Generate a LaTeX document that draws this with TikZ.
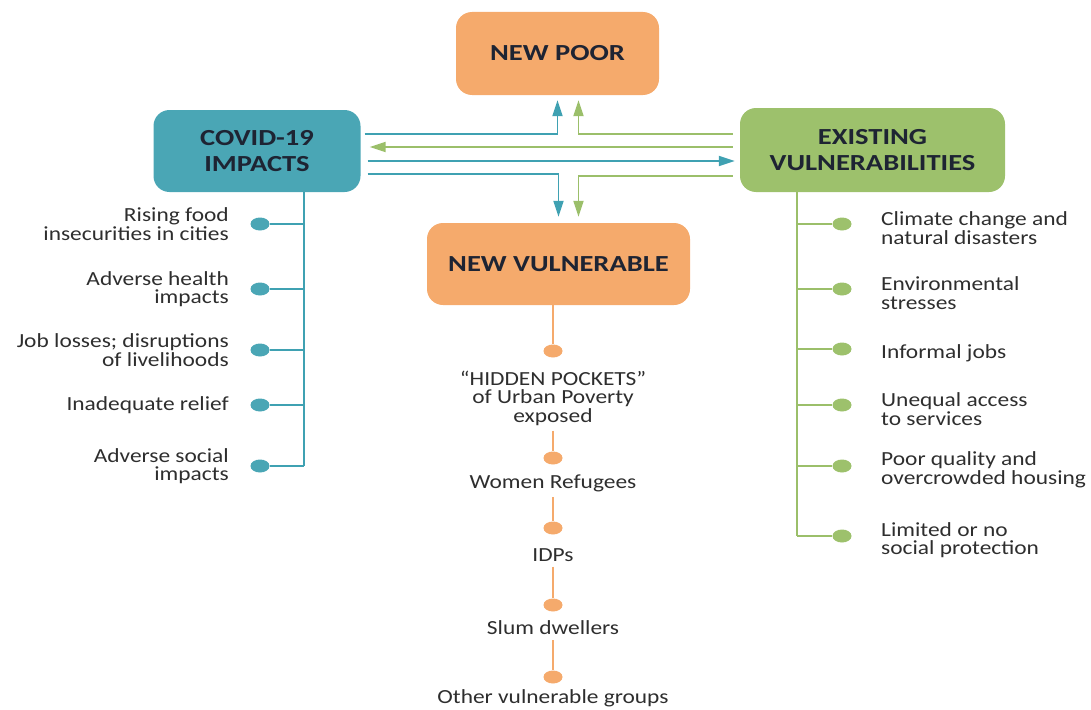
\documentclass[tikz,border=0pt]{standalone}
\usepackage{fontspec}
\setmainfont{Carlito}[FakeStretch=1.17]
\newfontfamily\headfont{Carlito}[FakeStretch=1.24]
\usetikzlibrary{arrows.meta,positioning,shapes.geometric}
\definecolor{tealc}{HTML}{4AA6B5}
\definecolor{tealln}{HTML}{3FA1B2}
\definecolor{greenc}{HTML}{9DC16C}
\definecolor{greenln}{HTML}{9BBF6A}
\definecolor{orangec}{HTML}{F5AA6C}
\definecolor{inkc}{HTML}{1E2433}
\definecolor{greyc}{HTML}{2E2E2E}

\tikzset{
  hub/.style={rounded corners=16pt, minimum height=83pt, align=center,
    font=\headfont\bfseries\fontsize{23}{26}\selectfont, text=inkc},
  bullet/.style={ellipse, minimum width=19pt, minimum height=13pt, inner sep=0pt, fill=#1},
  item/.style={font=\fontsize{20}{18.5}\selectfont, text=greyc, inner sep=0pt},
  wire/.style={line width=1.8pt, draw=#1},
  flow/.style={line width=1.8pt, draw=#1, -{Triangle[length=16pt,width=10pt,fill=#1]}}
}

\begin{document}
\begin{tikzpicture}[x=1pt,y=-1pt]
  \useasboundingbox (0,0) rectangle (1091,709);
  % the four boxes
  \node[hub,fill=orangec,minimum width=203pt] (poor) at (557.5,53.5) {NEW POOR};
  \node[hub,fill=tealc,minimum width=207pt,minimum height=82pt] (covid) at (257,151) {COVID-19\\IMPACTS};
  \node[hub,fill=greenc,minimum width=265pt,minimum height=84pt] (exist) at (872.5,150) {EXISTING\\VULNERABILITIES};
  \node[hub,fill=orangec,minimum width=263pt,minimum height=82pt] (newvul) at (558.5,264) {NEW VULNERABLE};

  % flows between the boxes
  \draw[flow=tealln] ([shift={(4pt,17pt)}]covid.east) -| ([yshift=-5pt]poor.south);
  \draw[flow=greenln] ([shift={(-7pt,16pt)}]exist.west) -| ([shift={(21pt,-5pt)}]poor.south);
  \draw[flow=greenln] ([shift={(-7pt,3pt)}]exist.west) -- ([shift={(9pt,4pt)}]covid.east);
  \draw[flow=tealln] ([shift={(7pt,-10pt)}]covid.east) -- ([shift={(-5pt,-11pt)}]exist.west);
  \draw[flow=tealln] ([shift={(7pt,-23pt)}]covid.east) -| ([yshift=6pt]newvul.north);
  \draw[flow=greenln] ([shift={(-7pt,-26pt)}]exist.west) -| ([shift={(20pt,6pt)}]newvul.north);

  % covid impacts
  \foreach \y/\txt [count=\i] in {224/{Rising food\\insecurities in cities},
      289/{Adverse health\\impacts}, 350/{Job losses; disruptions\\of livelihoods},
      405/{Inadequate relief}, 466/{Adverse social\\impacts}} {
    \node[bullet=tealc] (cd\i) at (260,\y) {};
    \node[item,anchor=east,align=right] (ct\i) at (229,\y) {\txt};
    \coordinate (cj\i) at (304,\y);
    \draw[wire=tealln] (cd\i) -- (cj\i);
  }
  \draw[wire=tealln] (covid.south -| cj1) -- (cj5);

  % existing vulnerabilities
  \foreach \y/\txt [count=\i] in {224/{Climate change and\\natural disasters},
      289/{Environmental\\stresses}, 349/{Informal jobs},
      405/{Unequal access\\to services}, 466/{Poor quality and\\overcrowded housing},
      536/{Limited or no\\social protection}} {
    \node[bullet=greenc] (ed\i) at (842,\y) {};
    \node[item,anchor=west,align=left] (et\i) at (881,\y+4) {\txt};
    \coordinate (ej\i) at (797,\y);
    \draw[wire=greenln] (ej\i) -- (ed\i);
  }
  \draw[wire=greenln] (exist.south -| ej1) -- (ej6);

  % new vulnerable groups
  \foreach \y [count=\i] in {351,458,528,605,677}
    \node[bullet=orangec] (md\i) at (553,\y) {};
  \foreach \y/\txt [count=\i] in {398/{“HIDDEN POCKETS”\\of Urban Poverty\\exposed},
      483/{Women Refugees}, 555/{IDPs}, 628/{Slum dwellers}, 698/{Other vulnerable groups}}
    \node[item,align=center] (mt\i) at (553,\y) {\txt};
  \draw[wire=orangec] (newvul.south -| md1) -- (md1);
  \foreach \i [evaluate=\i as \j using int(\i+1)] in {1,...,4}
    \draw[wire=orangec,shorten <=5pt] (mt\i.south) -- (md\j);
\end{tikzpicture}
\end{document}
